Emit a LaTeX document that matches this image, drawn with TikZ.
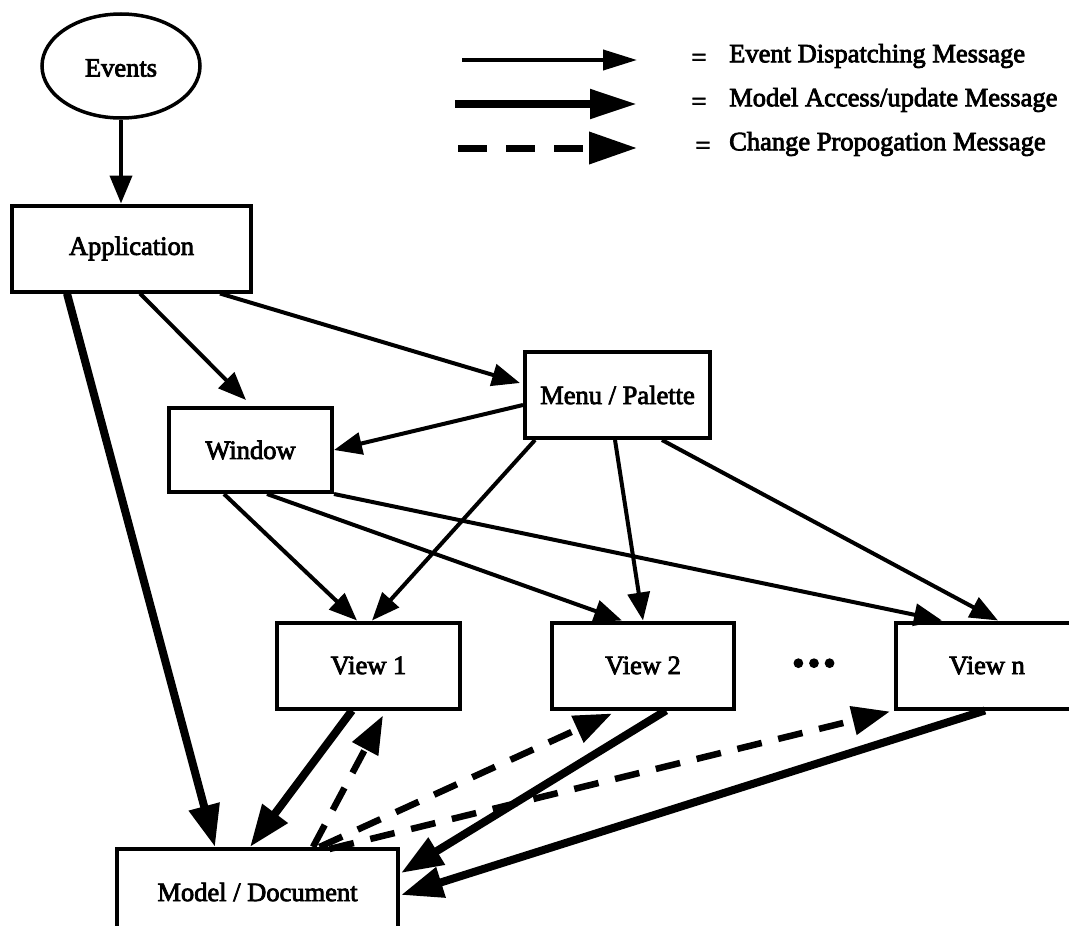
\documentclass[tikz,border=0pt]{standalone}
\usepackage{fontspec}
\setmainfont{Liberation Serif}[FakeBold=3]
\usetikzlibrary{arrows.meta,shapes.geometric}

\begin{document}
\begin{tikzpicture}[x=1pt,y=-1pt,
  every node/.style={font=\fontsize{26.5}{30}\selectfont, inner sep=0pt},
  box/.style={draw, line width=4pt, minimum width=#1, minimum height=86pt},
  evline/.style={line width=4pt, -{Triangle[length=28pt,width=22pt]}},
  maline/.style={line width=8pt, -{Triangle[length=42pt,width=30pt]}},
  cpline/.style={line width=6.5pt, dash pattern=on 25pt off 17pt, -{Triangle[length=38pt,width=28pt]}},
  evkey/.style={line width=4pt, -{Triangle[length=34pt,width=20pt]}},
  makey/.style={line width=8pt, -{Triangle[length=47pt,width=28pt]}},
  cpkey/.style={line width=7pt, dash pattern=on 29pt off 19pt, -{Triangle[length=48pt,width=31pt]}},
  keytext/.style={anchor=mid west}
]
\useasboundingbox (0,0) rectangle (1069,926);

% nodes
\node[draw, ellipse, line width=3.5pt, minimum width=158pt, minimum height=104pt] (events) at (121,66) {};
\node at (121,68) {Events};
\node[box=239pt] (app)   at (131.5,248.5) {Application};
\node[box=185pt] (menu)  at (617.5,395)   {Menu / Palette};
\node[box=163pt, minimum height=84pt] (win) at (250.5,450) {Window};
\node[box=183pt] (v1)    at (368.5,665.5) {View 1};
\node[box=182pt] (v2)    at (643,665.5)   {View 2};
\node[box=183pt] (vn)    at (987,665.5)   {View n};
\node[font=\fontsize{36}{40}\selectfont] (dots) at (814,667) {•\hspace{3pt}•\hspace{3pt}•};
\node[box=281pt] (model) at (257.5,892)   {Model / Document};

% legend
\coordinate (k1s) at (462,60);  \coordinate (k1e) at (637,60);
\coordinate (k2s) at (455,104); \coordinate (k2e) at (637,104);
\coordinate (k3s) at (458,148); \coordinate (k3e) at (637,148);
\draw[evkey] (k1s) -- (k1e);
\draw[makey] (k2s) -- (k2e);
\draw[cpkey] (k3s) -- (k3e);
\node (eq1) at (699,60)  {=};
\node (eq2) at (699,104) {=};
\node (eq3) at (703,148) {=};
\node[keytext] (t1) at (729,60)  {Event Dispatching Message};
\node[keytext] (t2) at (729,104) {Model Access/update Message};
\node[keytext] (t3) at (729,148) {Change Propogation Message};

% event dispatching messages
\draw[evline] (events.south) -- (events.south |- app.north);
\draw[evline] ([xshift=8.5pt]app.south) -- ([xshift=-4.5pt,yshift=6pt]win.north);
\draw[evline] ([xshift=88.5pt]app.south) -- ([xshift=-3pt,yshift=12pt]menu.west);
\draw[evline] ([yshift=-10pt]menu.west) -- (win.east);
\draw[evline] ([xshift=-82.5pt]menu.south) -- ([xshift=3.5pt]v1.north);
\draw[evline] ([xshift=-2.5pt]menu.south) -- (v2.north);
\draw[evline] ([xshift=44.5pt]menu.south) -- ([xshift=11pt]vn.north);
\draw[evline] ([xshift=-26.5pt]win.south) -- ([xshift=-11.5pt]v1.north);
\draw[evline] ([xshift=16.5pt]win.south) -- ([xshift=-21pt]v2.north);
\draw[evline] (win.south east) -- ([xshift=-45pt]vn.north);

% model access / update messages
\draw[maline] ([xshift=-64.5pt]app.south) -- ([xshift=-42.5pt]model.north);
\draw[maline] ([xshift=-16.5pt]v1.south) -- ([xshift=-7.5pt]model.north);
\draw[maline] ([xshift=23pt]v2.south) -- ([xshift=1pt,yshift=19pt]model.east);
\draw[maline] ([xshift=-2pt]vn.south) -- ([xshift=1pt,yshift=-3pt]model.east);

% change propagation messages
\draw[cpline] ([xshift=55.5pt]model.north) -- ([xshift=14.5pt,yshift=-5pt]v1.south);
\draw[cpline] ([xshift=62pt]model.north) -- ([xshift=-31pt,yshift=-3pt]v2.south);
\draw[cpline] ([xshift=72pt,yshift=-2pt]model.north) -- ([xshift=-97pt,yshift=-1pt]vn.south);
\end{tikzpicture}
\end{document}
